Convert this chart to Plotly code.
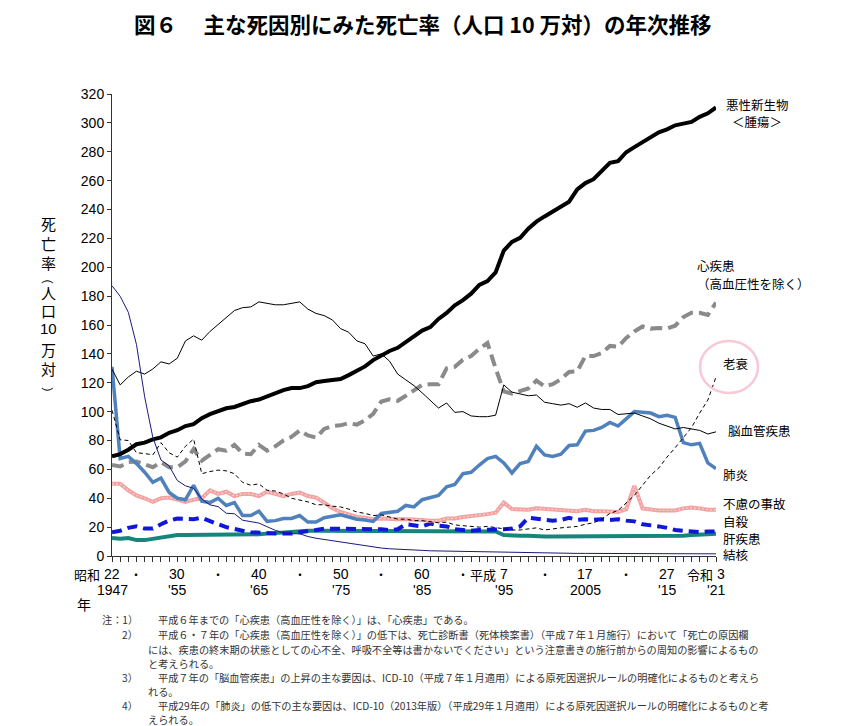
import plotly.graph_objects as go

years = list(range(1947, 2022))

malignant = [69.0, 70.6, 73.6, 77.4, 78.5, 80.8, 82.2, 85.3, 87.1, 90.0,
             91.3, 95.5, 98.2, 100.4, 102.3, 103.2, 105.5, 107.2, 108.4, 110.8,
             113.0, 114.9, 116.3, 116.3, 117.7, 120.4, 121.2, 122.2, 122.6, 125.3,
             128.4, 131.3, 135.7, 139.1, 142.0, 144.2, 148.3, 152.5, 156.1, 158.5,
             164.2, 168.4, 173.6, 177.2, 181.7, 187.8, 190.4, 196.4, 211.6, 217.5,
             220.4, 226.7, 231.6, 235.2, 238.8, 241.7, 245.4, 253.9, 258.3, 261.0,
             266.9, 272.3, 273.5, 279.7, 283.2, 286.6, 290.3, 293.5, 295.5, 298.3,
             299.5, 300.7, 304.2, 306.6, 310.7]
heart = [63.0, 62.0, 65.0, 65.5, 63.5, 61.5, 65.0, 61.5, 61.5, 65.5,
         74.0, 66.0, 70.0, 74.0, 73.0, 77.0, 71.0, 70.5, 77.0, 73.0,
         76.0, 80.0, 82.5, 87.0, 83.5, 82.0, 88.0, 90.0, 90.5, 92.0,
         91.0, 94.0, 98.5, 107.0, 108.5, 107.5, 111.0, 115.0, 118.5, 119.0,
         119.0, 130.0, 131.0, 136.0, 138.5, 143.5, 147.5, 130.0, 114.0, 112.5,
         114.0, 116.0, 121.5, 117.5, 119.0, 122.5, 127.5, 128.0, 138.5, 138.5,
         140.5, 145.5, 145.0, 151.0, 155.5, 159.0, 157.5, 158.0, 157.5, 159.5,
         165.5, 168.5, 168.5, 167.0, 175.5]
cerebro = [129.4, 118.5, 124.0, 128.0, 126.0, 129.5, 134.5, 133.0, 137.0, 149.0,
           152.5, 149.5, 155.5, 160.5, 165.5, 170.0, 172.0, 172.5, 176.0, 175.0,
           174.0, 174.0, 175.0, 176.0, 171.0, 168.0, 166.5, 163.5, 157.5, 155.0,
           149.0, 147.0, 138.5, 140.0, 135.0, 126.0, 122.0, 118.0, 113.0, 108.0,
           102.5, 106.0, 99.5, 100.0, 97.0, 96.5, 96.5, 97.5, 118.5, 113.5,
           112.0, 111.0, 111.5, 106.5, 105.5, 104.5, 105.5, 103.0, 106.0, 102.5,
           101.5, 101.5, 98.0, 98.5, 99.0, 97.0, 95.0, 92.0, 90.0, 88.0,
           89.0, 88.0, 87.0, 84.5, 86.0]
pneumonia = [131.0, 67.5, 69.0, 64.0, 58.0, 51.0, 54.0, 44.0, 40.0, 39.0,
             49.0, 38.0, 37.0, 40.0, 35.0, 37.0, 28.0, 28.0, 31.0, 24.0,
             24.5, 26.0, 26.0, 28.0, 23.5, 23.5, 26.5, 27.5, 28.5, 27.0,
             25.5, 25.0, 24.0, 29.5, 30.0, 31.0, 35.0, 34.0, 39.0, 40.5,
             42.0, 48.0, 49.5, 57.0, 58.0, 63.0, 67.5, 69.0, 64.5, 57.5,
             64.0, 65.5, 76.0, 70.0, 69.0, 70.5, 76.5, 77.0, 86.5, 87.0,
             89.0, 92.5, 90.0, 95.0, 100.0, 99.5, 99.0, 96.5, 97.5, 96.0,
             78.5, 77.0, 78.0, 64.5, 60.5]
senility = [101.0, 80.5, 80.0, 71.5, 71.0, 70.0, 78.5, 71.5, 68.5, 76.0,
            81.0, 57.0, 58.5, 59.5, 59.0, 57.0, 51.0, 49.0, 50.0, 45.5,
            45.0, 43.0, 40.0, 39.0, 37.5, 35.5, 35.5, 34.5, 34.0, 32.5,
            30.5, 29.5, 28.0, 28.5, 27.0, 25.5, 25.5, 24.5, 24.5, 23.5,
            23.0, 23.5, 21.5, 21.0, 20.5, 20.0, 20.5, 19.5, 18.5, 18.0,
            18.0, 18.5, 19.5, 18.0, 19.0, 19.5, 20.0, 20.5, 22.0, 23.0,
            25.5, 29.5, 31.5, 36.5, 42.0, 49.0, 56.0, 61.0, 68.5, 75.0,
            82.0, 89.0, 99.0, 108.0, 124.0]
accident = [50.0, 50.0, 45.5, 42.0, 40.0, 37.5, 40.0, 40.5, 39.0, 37.5,
            39.0, 40.0, 45.5, 43.0, 44.5, 41.5, 43.0, 43.0, 41.5, 44.5,
            43.0, 41.5, 43.0, 44.0, 41.5, 40.5, 37.0, 33.0, 30.5, 29.0,
            27.0, 26.5, 25.5, 26.0, 25.5, 25.5, 25.5, 25.5, 25.0, 24.5,
            24.5, 26.0, 26.0, 27.0, 27.5, 28.5, 29.0, 30.0, 37.0, 32.5,
            32.0, 32.0, 33.0, 32.5, 32.0, 31.5, 31.5, 31.0, 32.0, 31.0,
            31.0, 31.0, 30.5, 32.5, 48.5, 33.0, 32.0, 31.5, 31.5, 31.5,
            33.0, 33.5, 33.0, 32.0, 32.0]
suicide = [16.5, 17.5, 19.5, 20.5, 19.0, 19.0, 22.0, 24.5, 26.0, 25.5,
           25.5, 26.5, 24.0, 22.0, 20.0, 18.5, 17.5, 16.5, 16.0, 16.0,
           15.5, 15.5, 15.5, 16.5, 17.0, 18.0, 19.0, 19.0, 19.0, 18.5,
           19.0, 18.5, 18.5, 18.5, 18.0, 18.5, 22.0, 21.5, 20.5, 22.5,
           21.0, 20.5, 18.5, 18.0, 17.5, 18.0, 18.0, 18.0, 18.5, 19.0,
           20.5, 26.5, 26.0, 25.0, 24.5, 25.0, 26.5, 25.0, 25.5, 25.0,
           25.5, 25.0, 25.5, 24.5, 24.0, 22.0, 21.5, 20.5, 19.5, 18.0,
           17.5, 17.0, 16.5, 17.0, 17.0]
liver = [12.5, 12.0, 12.5, 11.0, 11.0, 12.0, 13.0, 14.0, 14.5, 14.5,
         14.5, 14.5, 14.5, 15.0, 15.0, 15.0, 15.0, 15.0, 15.0, 15.5,
         16.0, 16.5, 17.0, 17.5, 17.5, 17.5, 17.5, 17.5, 17.5, 17.5,
         17.5, 17.5, 17.5, 17.5, 17.5, 17.5, 17.5, 17.5, 17.0, 17.0,
         17.0, 17.0, 17.0, 17.0, 17.0, 17.0, 17.0, 17.0, 14.5, 14.0,
         14.0, 14.0, 13.5, 13.5, 13.5, 13.5, 13.5, 13.5, 13.5, 13.5,
         13.5, 13.5, 13.5, 13.5, 13.5, 13.5, 13.5, 13.5, 13.5, 14.0,
         14.0, 14.5, 14.5, 15.0, 15.5]
tuberculosis = [187.2, 179.9, 168.8, 146.4, 110.3, 82.2, 66.5, 62.4, 52.3, 48.6,
                46.9, 39.5, 35.4, 34.2, 29.6, 29.3, 24.8, 23.7, 22.8, 20.3,
                17.8, 16.1, 15.4, 15.4, 13.5, 12.3, 11.4, 10.5, 9.5, 8.9,
                8.0, 7.2, 6.4, 5.5, 5.0, 4.6, 4.4, 4.2, 3.9, 3.6,
                3.5, 3.0, 2.9, 3.0, 2.7, 2.8, 2.6, 2.5, 2.6, 2.3,
                2.2, 2.2, 2.3, 2.1, 2.0, 1.8, 1.9, 1.8, 1.8, 1.8,
                1.7, 1.8, 1.7, 1.7, 1.7, 1.7, 1.7, 1.7, 1.5, 1.5,
                1.8, 1.8, 1.7, 1.5, 1.5]

# x axis labels: (year, era text, number, western year)
era_labels = [(1947, "昭和", "22", "1947"), (1950, "", "・", ""), (1955, "", "30", "'55"),
              (1960, "", "・", ""), (1965, "", "40", "'65"), (1970, "", "・", ""),
              (1975, "", "50", "'75"), (1980, "", "・", ""), (1985, "", "60", "'85"),
              (1990, "", "・", ""), (1995, "平成", "7", "'95"), (2000, "", "・", ""),
              (2005, "", "17", "2005"), (2010, "", "・", ""), (2015, "", "27", "'15"),
              (2021, "令和", "3", "'21")]

notes = [("注：1）", "平成６年までの「心疾患（高血圧性を除く）」は、「心疾患」である。"),
         ("2）", "平成６・７年の「心疾患（高血圧性を除く）」の低下は、死亡診断書（死体検案書）（平成７年１月施行）において「死亡の原因欄"),
         ("", "には、疾患の終末期の状態としての心不全、呼吸不全等は書かないでください」という注意書きの施行前からの周知の影響によるもの"),
         ("", "と考えられる。"),
         ("3）", "平成７年の「脳血管疾患」の上昇の主な要因は、ICD-10（平成７年１月適用）による原死因選択ルールの明確化によるものと考えら"),
         ("", "れる。"),
         ("4）", "平成29年の「肺炎」の低下の主な要因は、ICD-10（2013年版）（平成29年１月適用）による原死因選択ルールの明確化によるものと考"),
         ("", "えられる。")]

JP = "Noto Sans CJK JP"
NUM = "Arial, Liberation Sans, Noto Sans CJK JP"

# page body has an 8px margin, so the figure is drawn 8px smaller and shifted
PAGE = 8
L, T, W, H = 112, 94, 604, 462
FW, FH = 867 - PAGE, 726 - PAGE


def px(x):
    return (x - L) / W


def py(y):
    return (T + H - y) / H


fig = go.Figure()

fig.add_trace(go.Scatter(x=years, y=liver, mode="lines", line=dict(color="#16867c", width=4)))
fig.add_trace(go.Scatter(x=years, y=suicide, mode="lines", line=dict(color="#0f17d9", width=4, dash="10px,6px")))
fig.add_trace(go.Scatter(x=years, y=accident, mode="lines", line=dict(color="#f3a0a0", width=4)))
fig.add_trace(go.Scatter(x=years, y=accident, mode="lines", line=dict(color="#f9d2d2", width=1.2, dash="2px,2px")))
fig.add_trace(go.Scatter(x=years, y=heart, mode="lines", line=dict(color="#8a8a8a", width=4, dash="12px,6px")))
fig.add_trace(go.Scatter(x=years, y=pneumonia, mode="lines", line=dict(color="#4f81bd", width=3.5)))
fig.add_trace(go.Scatter(x=years, y=malignant, mode="lines", line=dict(color="black", width=4)))
fig.add_trace(go.Scatter(x=years, y=cerebro, mode="lines", line=dict(color="black", width=1)))
fig.add_trace(go.Scatter(x=years, y=senility, mode="lines", line=dict(color="black", width=1, dash="4px,3px")))
fig.add_trace(go.Scatter(x=years, y=tuberculosis, mode="lines", line=dict(color="#1a1a7a", width=1)))

fig.update_layout(width=FW, height=FH, autosize=False, showlegend=False,
                  margin=dict(l=L - PAGE, r=FW - (L - PAGE) - W, t=T - PAGE, b=FH - (T - PAGE) - H),
                  paper_bgcolor="white", plot_bgcolor="white",
                  font=dict(family=NUM, color="black"))
fig.update_xaxes(range=[1947, 2021], tickvals=years, ticks="outside", ticklen=5, tickcolor="#333",
                 showticklabels=False, showline=True, linecolor="#333", showgrid=False, zeroline=False)
fig.update_yaxes(range=[0, 320], dtick=20, ticks="outside", ticklen=4, tickcolor="#333",
                 tickfont=dict(size=14, family=NUM), showline=True, linecolor="#333",
                 showgrid=False, zeroline=False)

ann = []
ann.append(dict(x=px(423), y=py(23), text="<b>図６　 主な死因別にみた死亡率（人口 10 万対）の年次推移</b>",
                font=dict(size=21.5, family=JP), borderpad=0))

# vertical y-axis title
for ch, yy in [("死", 223), ("亡", 243), ("率", 262), ("（", 278), ("人", 292), ("口", 310),
               ("10", 328), ("万", 349), ("対", 368), ("）", 393)]:
    d = dict(x=px(48), y=py(yy), text=ch, font=dict(size=15, family=JP if ch != "10" else NUM), borderpad=0)
    if ch in ("（", "）"):
        d["textangle"] = 90
        d["font"] = dict(size=12, family=JP)
    ann.append(d)

# x axis labels
for yr, era, num, west in era_labels:
    xp = (yr - 1947) / (2021 - 1947)
    if num == "・":
        ann.append(dict(x=xp, y=py(574), text="・", font=dict(size=12, family=JP)))
        continue
    shift = 5 / W if yr == 2021 else 0
    ann.append(dict(x=xp + shift, y=py(574), text=num, font=dict(size=14)))
    if era:
        off = 6 if len(num) == 1 else 10
        ann.append(dict(x=xp + shift - off / W, y=py(574), text=era, xanchor="right",
                        font=dict(size=13, family=JP)))
    ann.append(dict(x=xp, y=py(590), text=west, font=dict(size=14)))
ann.append(dict(x=px(84), y=py(604), text="年", font=dict(size=14, family=JP)))

# series labels
for txt, xx, yy, anc in [("悪性新生物", 757, 104, "center"), ("＜腫瘍＞", 757, 122, "center"),
                         ("心疾患", 696, 265, "left"), ("（高血圧性を除く）", 696, 283, "left"),
                         ("老衰", 722, 363, "left"), ("脳血管疾患", 727, 430, "left"),
                         ("肺炎", 722, 474, "left"), ("不慮の事故", 722, 503, "left"),
                         ("自殺", 722, 521, "left"), ("肝疾患", 722, 538, "left"),
                         ("結核", 722, 554, "left")]:
    ann.append(dict(x=px(xx), y=py(yy), text=txt, xanchor=anc, borderpad=0,
                    font=dict(size=12.5, family=JP)))

# notes
note_y = [619, 634, 649, 663, 677, 691, 705, 719]
for (lab, txt), yy in zip(notes, note_y):
    if lab:
        ann.append(dict(x=px(140), y=py(yy), text=lab, xanchor="right",
                        font=dict(size=10.2, family=JP, color="#333")))
        ann.append(dict(x=px(156), y=py(yy), text=txt, xanchor="left",
                        font=dict(size=10.2, family=JP, color="#333")))
    else:
        ann.append(dict(x=px(146), y=py(yy), text=txt, xanchor="left",
                        font=dict(size=10.2, family=JP, color="#333")))

for a in ann:
    a.setdefault("xref", "paper")
    a.setdefault("yref", "paper")
    a.setdefault("showarrow", False)
    a.setdefault("yanchor", "middle")
    a.setdefault("xanchor", "center")
fig.update_layout(annotations=ann)

fig.add_shape(type="circle", xref="paper", yref="paper", x0=px(700), x1=px(758), y0=py(393), y1=py(341),
              line=dict(color="#f7c9d4", width=2.5))

fig.write_html("out.html")
